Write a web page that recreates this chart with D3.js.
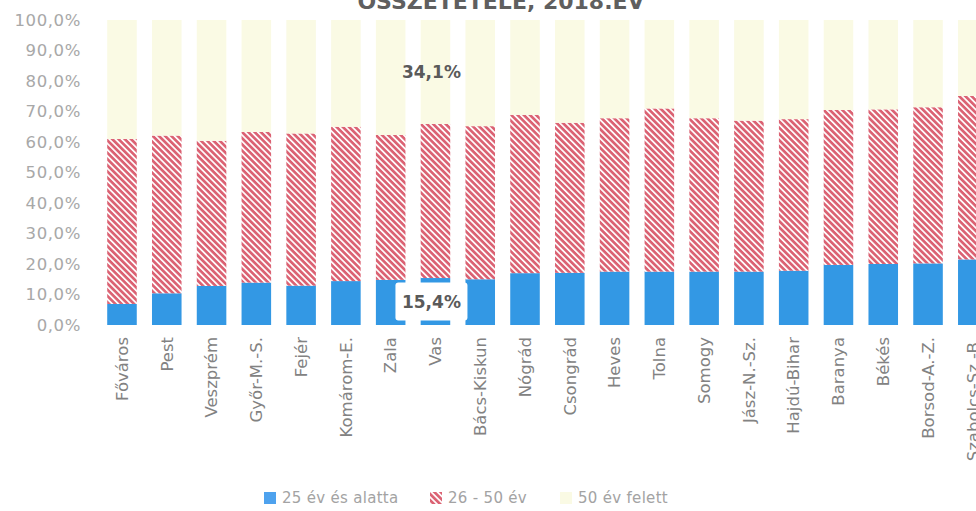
<!DOCTYPE html>
<html lang="hu">
<head>
<meta charset="utf-8">
<title>Korösszetétel, 2018. év</title>
<script src="https://cdn.jsdelivr.net/npm/d3@7/dist/d3.min.js"></script>
<style>
  html, body { margin: 0; padding: 0; background: #fff; }
  body { font-family: "DejaVu Sans", sans-serif; }
  .axis path, .axis line { display: none; }
</style>
</head>
<body>
<script>
// counties (x categories)
var categories = ["Főváros", "Pest", "Veszprém", "Győr-M.-S.", "Fejér", "Komárom-E.",
  "Zala", "Vas", "Bács-Kiskun", "Nógrád", "Csongrád", "Heves", "Tolna", "Somogy",
  "Jász-N.-Sz.", "Hajdú-Bihar", "Baranya", "Békés", "Borsod-A.-Z.", "Szabolcs-Sz.-B."];

// share of age groups, %
var under25 = [6.9, 10.4, 12.8, 13.9, 12.9, 14.4, 14.8, 15.4, 15.0, 17.0,
  17.1, 17.5, 17.5, 17.5, 17.5, 17.8, 19.7, 20.0, 20.2, 21.5];
var age26to50 = [54.1, 51.7, 47.6, 49.4, 49.9, 50.6, 47.5, 50.5, 50.2, 51.9,
  49.2, 50.3, 53.5, 50.3, 49.5, 49.7, 50.8, 50.7, 51.2, 53.6];
var over50 = [39.0, 37.9, 39.6, 36.7, 37.2, 35.0, 37.7, 34.1, 34.8, 31.1,
  33.7, 32.2, 29.0, 32.2, 33.0, 32.5, 29.5, 29.3, 28.6, 24.9];

var seriesNames = ["25 év és alatta", "26 - 50 év", "50 év felett"];
var yTicks = [0, 10, 20, 30, 40, 50, 60, 70, 80, 90, 100];
var title = "ÖSSZETÉTELE, 2018.ÉV";

// labelled values (series index, category index)
var labelled = [[0, 7], [2, 7]];

var w = 976, h = 511;

var table = categories.map(function(c, i) {
  return { cat: c, s0: under25[i], s1: age26to50[i], s2: over50[i] };
});
var stack = d3.stack().keys(["s0", "s1", "s2"])(table);

var xScale = d3.scaleBand()
  .domain(categories)
  .range([99.6, 995.2])
  .paddingInner(0.34)
  .paddingOuter(0.17);

var yScale = d3.scaleLinear()
  .domain([0, 100])
  .range([325, 20]);

var svg = d3.select("body").append("svg")
  .attr("width", w)
  .attr("height", h);

// hatch for the middle series
var defs = svg.append("defs");
var pat = defs.append("pattern")
  .attr("id", "hatch")
  .attr("patternUnits", "userSpaceOnUse")
  .attr("width", 4.4)
  .attr("height", 4.4)
  .attr("patternTransform", "rotate(45)");
pat.append("rect").attr("width", 4.4).attr("height", 4.4).attr("fill", "#fff");
pat.append("rect").attr("width", 4.4).attr("height", 2.7).attr("fill", "#db6273");

var fills = ["#3398e4", "url(#hatch)", "#fafae4"];

// title (cut off at the top)
svg.append("text")
  .attr("x", 501)
  .attr("y", 9)
  .attr("text-anchor", "middle")
  .attr("font-size", "22px")
  .attr("font-weight", "bold")
  .attr("fill", "#5f5f5f")
  .text(title);

// bars
svg.selectAll("g.series")
  .data(stack)
  .enter()
  .append("g")
  .attr("class", "series")
  .attr("fill", function(d, i) { return fills[i]; })
  .selectAll("rect")
  .data(function(d) { return d; })
  .enter()
  .append("rect")
  .attr("x", function(d) { return xScale(d.data.cat); })
  .attr("y", function(d) { return yScale(d[1]); })
  .attr("width", xScale.bandwidth())
  .attr("height", function(d) { return yScale(d[0]) - yScale(d[1]); });

// y axis
var fmt = function(d) { return d.toFixed(1).replace(".", ",") + "%"; };
var yAxis = d3.axisLeft(yScale).tickValues(yTicks).tickSize(0).tickPadding(19).tickFormat(fmt);
svg.append("g")
  .attr("class", "axis")
  .attr("transform", "translate(100,0)")
  .call(yAxis)
  .selectAll("text")
  .attr("font-family", "DejaVu Sans, sans-serif")
  .attr("font-size", "16.5px")
  .attr("letter-spacing", "0.6px")
  .attr("fill", "#a8a8a8");

// x axis, labels rotated
var xAxis = d3.axisBottom(xScale).tickSize(0);
svg.append("g")
  .attr("class", "axis")
  .attr("transform", "translate(0,325)")
  .call(xAxis)
  .selectAll("text")
  .attr("transform", "rotate(-90)")
  .attr("x", -12)
  .attr("y", 0)
  .attr("dy", "0.35em")
  .style("text-anchor", "end")
  .attr("font-family", "DejaVu Sans, sans-serif")
  .attr("font-size", "16.5px")
  .attr("fill", "#828282");

// data labels
labelled.forEach(function(p) {
  var seg = stack[p[0]][p[1]];
  var cx = xScale(seg.data.cat) + xScale.bandwidth() / 2 - 4;
  var cy = yScale((seg[0] + seg[1]) / 2);
  if (p[0] === 0) {
    svg.append("rect")
      .attr("x", cx - 36)
      .attr("y", cy - 19)
      .attr("width", 72)
      .attr("height", 38)
      .attr("rx", 3)
      .attr("fill", "#fff");
  }
  svg.append("text")
    .attr("x", cx)
    .attr("y", cy)
    .attr("dy", "0.36em")
    .attr("text-anchor", "middle")
    .attr("font-size", "17px")
    .attr("font-weight", "bold")
    .attr("fill", "#5a5a5a")
    .text(fmt(seg[1] - seg[0]));
});

// legend
var legendX = [264, 430, 560];
var legend = svg.selectAll("g.legend")
  .data(seriesNames)
  .enter()
  .append("g")
  .attr("class", "legend")
  .attr("transform", function(d, i) { return "translate(" + legendX[i] + ",492)"; });
legend.append("rect")
  .attr("width", 12)
  .attr("height", 12)
  .attr("fill", function(d, i) { return i === 0 ? "#4ea2ee" : fills[i]; });
legend.append("text")
  .attr("x", 18)
  .attr("y", 6)
  .attr("dy", "0.36em")
  .attr("font-size", "15px")
  .attr("letter-spacing", "0.3px")
  .attr("fill", "#a3a3a3")
  .text(function(d) { return d; });
</script>
</body>
</html>
